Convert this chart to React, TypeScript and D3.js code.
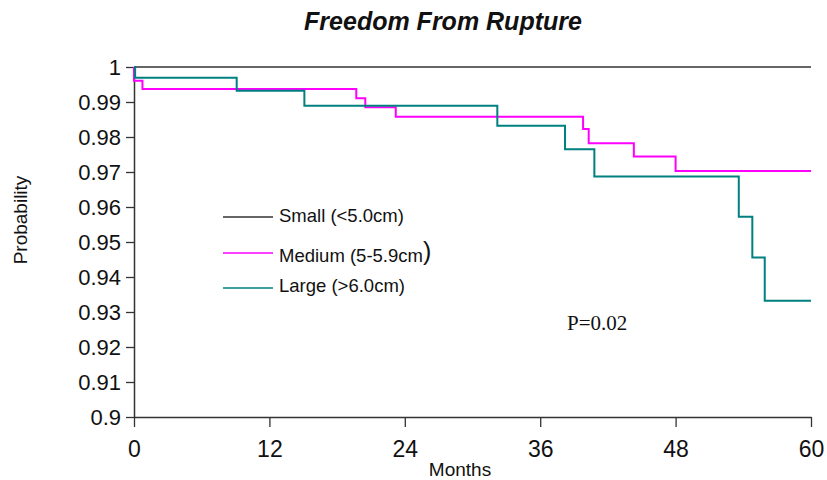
import React, { useEffect, useRef } from 'react';
import * as d3 from 'd3';

// tick values
const monthTicks = [0, 12, 24, 36, 48, 60];
const probTicks = [0.9, 0.91, 0.92, 0.93, 0.94, 0.95, 0.96, 0.97, 0.98, 0.99, 1];

// Kaplan-Meier steps
const smallTimes = [0, 60];
const smallSurv = [1, 1];
const mediumTimes = [0, 0, 0.75, 19.7, 20.5, 23.2, 39.8, 40.3, 44.3, 48.0, 60];
const mediumSurv = [1, 0.9961, 0.9937, 0.9911, 0.9885, 0.9858, 0.9823, 0.9782, 0.9744, 0.9703, 0.9703];
const largeTimes = [0, 0.1, 9.1, 15.1, 32.2, 38.2, 40.8, 53.6, 54.8, 55.9, 60];
const largeSurv = [1, 0.9969, 0.9932, 0.9889, 0.9832, 0.9765, 0.9687, 0.9572, 0.9456, 0.9332, 0.9332];

const seriesNames = ['Small (<5.0cm)', 'Medium (5-5.9cm', 'Large (>6.0cm)'];
const seriesColors = ['#333333', '#ff00ff', '#008080'];

const W = 827;
const H = 480;
const margin = { top: 67, right: 16, bottom: 63, left: 134 };

export default function App() {
  const xAxisRef = useRef<SVGGElement>(null);
  const yAxisRef = useRef<SVGGElement>(null);

  const x = d3.scaleLinear().domain([0, 60]).range([margin.left, W - margin.right]);
  const y = d3.scaleLinear().domain([0.9, 1]).range([H - margin.bottom, margin.top]);

  const line = d3.line<[number, number]>()
    .x(d => x(d[0]))
    .y(d => y(d[1]))
    .curve(d3.curveStepAfter);

  const series = [
    d3.zip(smallTimes, smallSurv) as [number, number][],
    d3.zip(mediumTimes, mediumSurv) as [number, number][],
    d3.zip(largeTimes, largeSurv) as [number, number][],
  ];

  useEffect(() => {
    const xa = d3.select(xAxisRef.current!);
    xa.call(d3.axisBottom(x).tickValues(monthTicks).tickSize(10).tickSizeOuter(0).tickPadding(14));
    xa.select('.domain').attr('stroke', '#333').attr('stroke-width', 1.5);
    xa.selectAll('.tick line').attr('stroke', '#333').attr('stroke-width', 1.3);
    xa.selectAll('.tick text')
      .attr('font-family', 'Liberation Sans, Arial, sans-serif')
      .attr('font-size', 23)
      .attr('fill', '#111');

    const ya = d3.select(yAxisRef.current!);
    ya.call(d3.axisLeft(y).tickValues(probTicks).tickFormat(d => String(d)).tickSize(8).tickSizeOuter(0).tickPadding(5));
    ya.select('.domain').attr('stroke', '#333').attr('stroke-width', 1.5);
    ya.selectAll('.tick line').attr('stroke', '#333').attr('stroke-width', 1.3);
    ya.selectAll('.tick text')
      .attr('font-family', 'Liberation Sans, Arial, sans-serif')
      .attr('font-size', 22)
      .attr('fill', '#111');
  }, []);

  const legendY = [217, 253, 288];
  const legendTextY = [222, 262, 292];

  return (
    <svg width={W} height={H} style={{ position: 'absolute', left: 0, top: 0, background: '#fff' }}>
      <text x={443} y={30} textAnchor="middle" fontFamily="Liberation Sans, Arial, sans-serif"
        fontSize={25} fontWeight="bold" fontStyle="italic" fill="#111">
        Freedom From Rupture
      </text>

      <g ref={xAxisRef} transform={`translate(0,${H - margin.bottom})`} />
      <g ref={yAxisRef} transform={`translate(${margin.left},0)`} />

      {series.map((s, i) => (
        <path key={i} d={line(s) ?? ''} fill="none" stroke={seriesColors[i]}
          strokeWidth={i === 0 ? 1.6 : 2} />
      ))}

      <text transform="translate(27,220) rotate(-90)" textAnchor="middle"
        fontFamily="Liberation Sans, Arial, sans-serif" fontSize={19} fill="#111">
        Probability
      </text>
      <text x={460} y={476} textAnchor="middle"
        fontFamily="Liberation Sans, Arial, sans-serif" fontSize={19} fill="#111">
        Months
      </text>

      {seriesNames.map((name, i) => (
        <g key={name}>
          <line x1={223} x2={273} y1={legendY[i]} y2={legendY[i]} stroke={seriesColors[i]} strokeWidth={1.6} />
          <text x={279} y={legendTextY[i]} fontFamily="Liberation Sans, Arial, sans-serif" fontSize={18.5} fill="#111">
            {name}
            {i === 1 && <tspan fontSize={25} dy={-2}>)</tspan>}
          </text>
        </g>
      ))}

      <text x={567} y={330} fontFamily="Liberation Serif, Times New Roman, serif" fontSize={21} fill="#111">
        P=0.02
      </text>
    </svg>
  );
}
